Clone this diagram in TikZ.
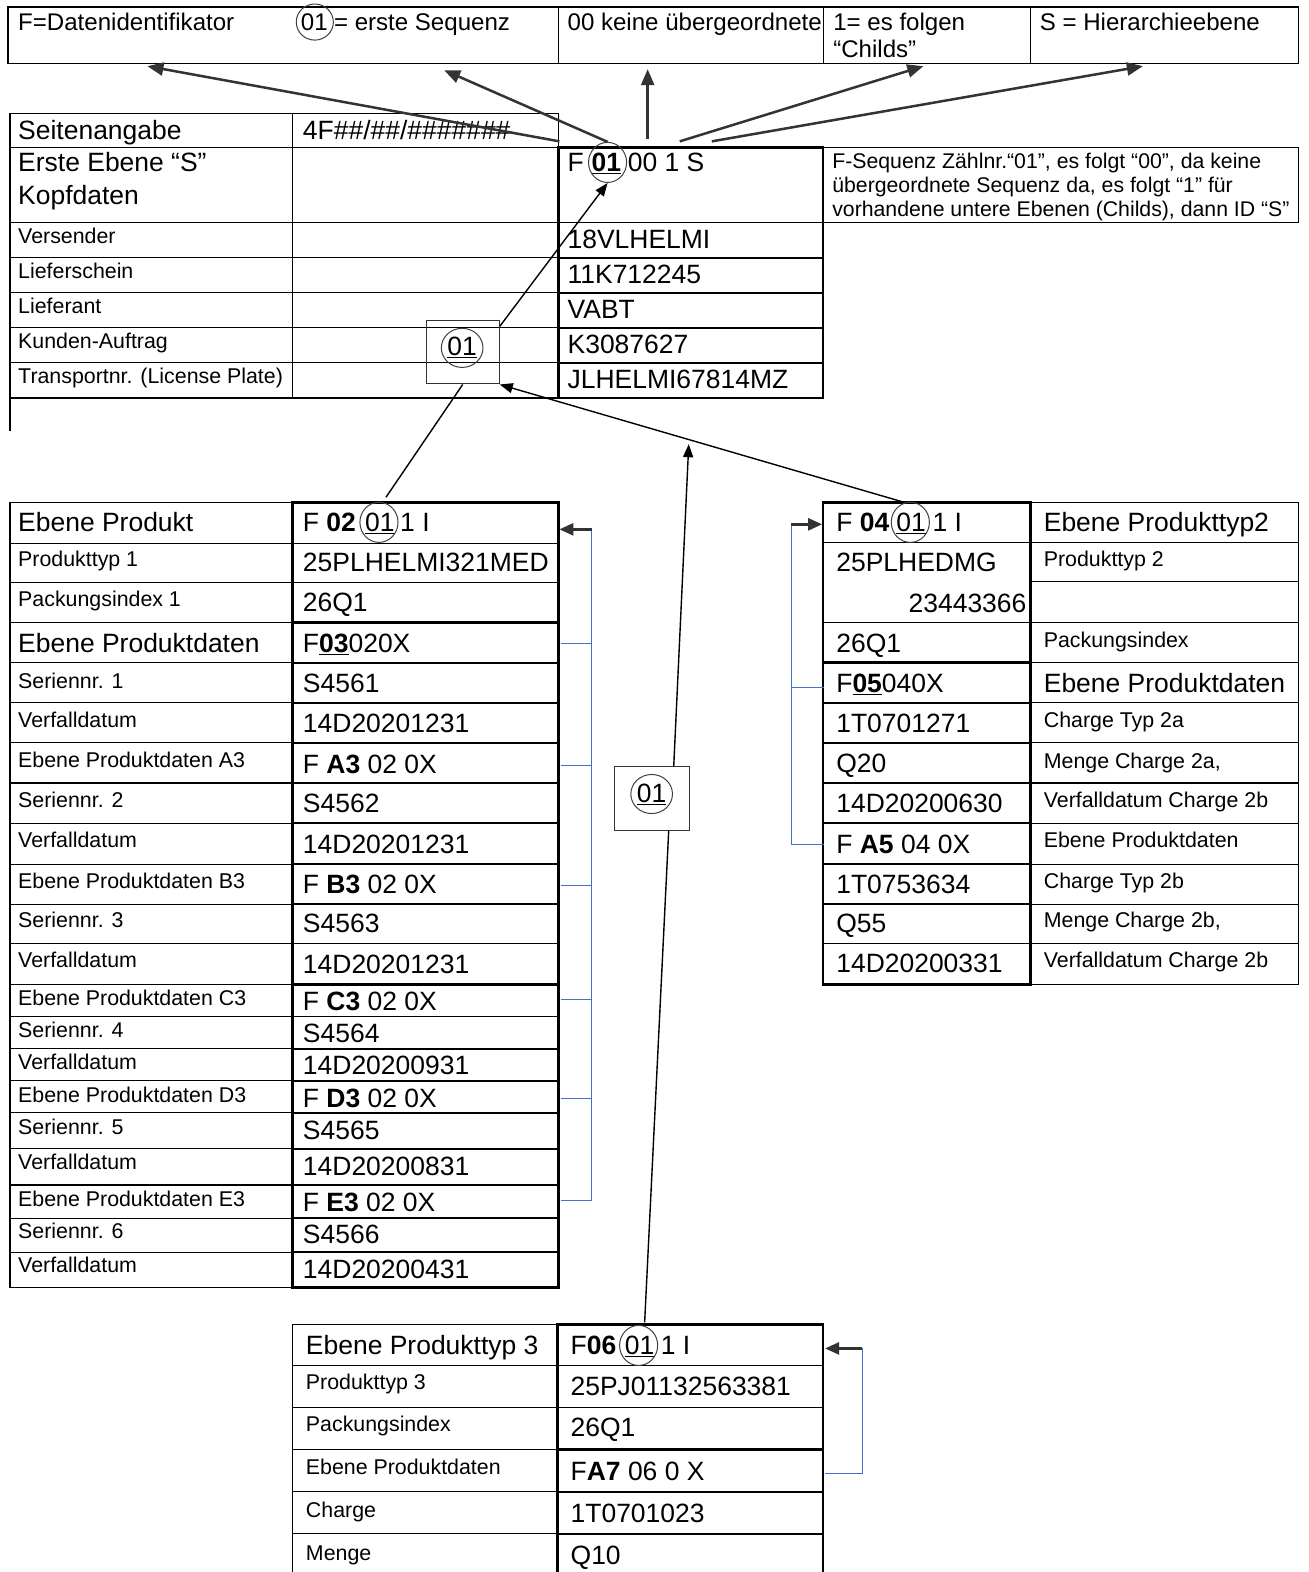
\documentclass[tikz,border=0pt]{standalone}
\usepackage{fontspec}
\setmainfont{Liberation Sans}
\usetikzlibrary{arrows.meta,shapes.geometric}
\definecolor{wblue}{HTML}{4472C4}
\definecolor{agray}{HTML}{333333}
\begin{document}
\begin{tikzpicture}[x=1pt,y=-1pt,
  val/.style={anchor=base west,inner sep=0pt,font=\fontsize{26.4}{30}\selectfont},
  lab/.style={anchor=base west,inner sep=0pt,font=\fontsize{21.3}{25}\selectfont},
  topt/.style={anchor=base west,inner sep=0pt,font=\fontsize{24}{28}\selectfont},
  note/.style={anchor=base west,inner sep=0pt,font=\fontsize{21.2}{25}\selectfont},
  thinl/.style={line width=1.1pt,black},
  midl/.style={line width=1.7pt,black},
  thickl/.style={line width=2.5pt,black},
  ring/.style={draw=black!75,line width=1pt,ellipse,minimum width=38pt,minimum height=40pt,inner sep=0pt,font=\fontsize{26.4}{30}\selectfont},
  garrow/.style={line width=2.5pt,draw=agray,-{Triangle[length=16pt,width=13pt]}},
  sarrow/.style={line width=2.6pt,draw=agray,-{Triangle[length=14pt,width=12pt]}},
  karrow/.style={line width=1.4pt,black,-{Triangle[length=13pt,width=10pt]}},
  kline/.style={line width=1.4pt,black},
  bl/.style={line width=1pt,draw=wblue},
  boxs/.style={draw=black!80,line width=1pt,inner sep=0pt}
]
\useasboundingbox (0,0) rectangle (1305,1568);

% ---------------- top bar ----------------
\draw[thinl] (8,7) rectangle (1295,63);
\foreach \x in {557,821,1028} \draw[thinl] (\x,7) -- (\x,63);
\node[topt] (tb1) at (18,30.5) {F=Datenidentifikator};
\node[topt] (tb2a) at (300,30.5) {01};
\node[ring,minimum width=37pt,minimum height=36pt] (tbc) at (314,22) {};
\node[topt] (tb2b) at (333,30.5) {= erste Sequenz};
\node[topt] (tb3) at (566,30.5) {00 keine übergeordnete};
\node[topt] (tb4a) at (831,30.5) {1= es folgen};
\node[topt] (tb4b) at (831,57) {“Childs”};
\node[topt] (tb5) at (1037,30.5) {S = Hierarchieebene};

% ---------------- header table ----------------
\draw[thinl] (10,430) -- (10,113) -- (557,113) -- (557,147);
\draw[thinl] (292,113) -- (292,397);
\foreach \y in {147,222,257,292,327,362,397} \draw[thinl] (10,\y) -- (557,\y);
\foreach \y in {222,257,292,327,362} \draw[midl] (557,\y) -- (821,\y);
\draw[thickl] (557,147) rectangle (821,397);
\draw[thinl] (821,147) rectangle (1295,222);

\node[val] (hSa) at (18,139.5) {Seitenangabe};
\node[val] (hSb) at (302,139.5) {4F\#\#/\#\#/\#\#\#\#\#\#\#};
\node[val] (hE1) at (18,171.5) {Erste Ebene “S”};
\node[val] (hE2) at (18,203.5) {Kopfdaten};
\node[val] (h1a) at (566,171.5) {F};
\node[val] (h1b) at (590,171.5) {\underline{\textbf{01}}};
\node[val] (h1c) at (626,171.5) {00 1 S};
\node[ring] (c1) at (606,162) {};

\node[lab] (hl1) at (18,242.5) {Versender};
\node[lab] (hl2) at (18,277.5) {Lieferschein};
\node[lab] (hl3) at (18,312.5) {Lieferant};
\node[lab] (hl4) at (18,347.5) {Kunden-Auftrag};
\node[lab] (hl5) at (18,382.5) {Transportnr. (License Plate)};
\node[val] (hv1) at (566,247.5) {18VLHELMI};
\node[val] (hv2) at (566,282.5) {11K712245};
\node[val] (hv3) at (566,317.5) {VABT};
\node[val] (hv4) at (566,352.5) {K3087627};
\node[val] (hv5) at (566,387.5) {JLHELMI67814MZ};

\node[note] (n1) at (830,168) {F-Sequenz Zählnr.“01”, es folgt “00”, da keine};
\node[note] (n2) at (830,192.5) {übergeordnete Sequenz da, es folgt “1” für};
\node[note] (n3) at (830,216) {vorhandene untere Ebenen (Childs), dann ID “S”};

% ---------------- box 1 ----------------
\node[boxs,minimum width=73pt,minimum height=63pt] (b1) at (461.5,351.5) {};
\node[ring,minimum width=41pt,minimum height=39pt] (b1c) at (461,347) {\underline{01}};

% ---------------- left table ----------------
\draw[thinl] (10,501) rectangle (292,1284);
\foreach \y in {542,581,621,661,701,741,781,821,862,902,941,982,1014,1046,1078,1110,1146,1182,1215,1249}
  \draw[thinl] (10,\y) -- (292,\y);
\foreach \y in {542,581,661,701,781,821,902,941,1014,1046,1110,1146,1215,1249}
  \draw[midl] (292,\y) -- (557,\y);
\foreach \y in {621,741,862,982,1078,1182}
  \draw[thickl] (292,\y) -- (557,\y);
\draw[thickl] (292,501) rectangle (557,1284);

\node[val] (L1) at (18,530.5) {Ebene Produkt};
\node[lab] (L2) at (18,565.5) {Produkttyp 1};
\node[lab] (L3) at (18,604.5) {Packungsindex 1};
\node[val] (L4) at (18,650.5) {Ebene Produktdaten};
\node[lab] (L5) at (18,686.5) {Seriennr. 1};
\node[lab] (L6) at (18,725.5) {Verfalldatum};
\node[lab] (L7) at (18,765.5) {Ebene Produktdaten A3};
\node[lab] (L8) at (18,805.5) {Seriennr. 2};
\node[lab] (L9) at (18,845.5) {Verfalldatum};
\node[lab] (L10) at (18,886.5) {Ebene Produktdaten B3};
\node[lab] (L11) at (18,925.5) {Seriennr. 3};
\node[lab] (L12) at (18,965.5) {Verfalldatum};
\node[lab] (L13) at (18,1002.5) {Ebene Produktdaten C3};
\node[lab] (L14) at (18,1034.5) {Seriennr. 4};
\node[lab] (L15) at (18,1066.5) {Verfalldatum};
\node[lab] (L16) at (18,1099.5) {Ebene Produktdaten D3};
\node[lab] (L17) at (18,1131.5) {Seriennr. 5};
\node[lab] (L18) at (18,1166.5) {Verfalldatum};
\node[lab] (L19) at (18,1203.5) {Ebene Produktdaten E3};
\node[lab] (L20) at (18,1235.5) {Seriennr. 6};
\node[lab] (L21) at (18,1269.5) {Verfalldatum};

\node[val] (V1a) at (302,530.5) {F \textbf{02}};
\node[val] (V1b) at (364,530.5) {\underline{01}};
\node[val] (V1c) at (399,530.5) {1 I};
\node[ring] (c2) at (378,521) {};
\node[val] (V2) at (302,570.5) {25PLHELMI321MED};
\node[val] (V3) at (302,609.5) {26Q1};
\node[val] (V4) at (302,650.5) {F\underline{\textbf{03}}020X};
\node[val] (V5) at (302,690.5) {S4561};
\node[val] (V6) at (302,730.5) {14D20201231};
\node[val] (V7) at (302,771.5) {F \textbf{A3} 02 0X};
\node[val] (V8) at (302,810.5) {S4562};
\node[val] (V9) at (302,851.5) {14D20201231};
\node[val] (V10) at (302,891.5) {F \textbf{B3} 02 0X};
\node[val] (V11) at (302,930.5) {S4563};
\node[val] (V12) at (302,971.5) {14D20201231};
\node[val] (V13) at (302,1007.5) {F \textbf{C3} 02 0X};
\node[val] (V14) at (302,1039.5) {S4564};
\node[val] (V15) at (302,1071.5) {14D20200931};
\node[val] (V16) at (302,1104.5) {F \textbf{D3} 02 0X};
\node[val] (V17) at (302,1136.5) {S4565};
\node[val] (V18) at (302,1172.5) {14D20200831};
\node[val] (V19) at (302,1208.5) {F \textbf{E3} 02 0X};
\node[val] (V20) at (302,1240.5) {S4566};
\node[val] (V21) at (302,1275.5) {14D20200431};

% ---------------- right table ----------------
\draw[thinl] (1028,501) rectangle (1295,982);
\foreach \y in {541,580,621,661,701,741,781,821,862,902,941}
  \draw[thinl] (1028,\y) -- (1295,\y);
\foreach \y in {541,621,701,741,781,862,902,941}
  \draw[midl] (821,\y) -- (1028,\y);
\foreach \y in {661,821}
  \draw[thickl] (821,\y) -- (1028,\y);
\draw[thickl] (821,501) rectangle (1028,982);

\node[val] (R1a) at (834,530.5) {F \textbf{04}};
\node[val] (R1b) at (894,530.5) {\underline{01}};
\node[val] (R1c) at (930,530.5) {1 I};
\node[ring] (c4) at (908,521) {};
\node[val] (R2) at (834,570.5) {25PLHEDMG};
\node[val,anchor=base east] (R3) at (1024,610.5) {23443366};
\node[val] (R4) at (834,650.5) {26Q1};
\node[val] (R5) at (834,690.5) {F\underline{\textbf{05}}040X};
\node[val] (R6) at (834,730.5) {1T0701271};
\node[val] (R7) at (834,770.5) {Q20};
\node[val] (R8) at (834,810.5) {14D20200630};
\node[val] (R9) at (834,851.5) {F \textbf{A5} 04 0X};
\node[val] (R10) at (834,891.5) {1T0753634};
\node[val] (R11) at (834,930.5) {Q55};
\node[val] (R12) at (834,970.5) {14D20200331};

\node[val] (Q1) at (1041,530.5) {Ebene Produkttyp2};
\node[lab] (Q2) at (1041,565.5) {Produkttyp 2};
\node[lab] (Q3) at (1041,645.5) {Packungsindex};
\node[val] (Q4) at (1041,690.5) {Ebene Produktdaten};
\node[lab] (Q5) at (1041,725.5) {Charge Typ 2a};
\node[lab] (Q6) at (1041,766.5) {Menge Charge 2a,};
\node[lab] (Q7) at (1041,805.5) {Verfalldatum Charge 2b};
\node[lab] (Q8) at (1041,845.5) {Ebene Produktdaten};
\node[lab] (Q9) at (1041,886.5) {Charge Typ 2b};
\node[lab] (Q10) at (1041,925.5) {Menge Charge 2b,};
\node[lab] (Q11) at (1041,965.5) {Verfalldatum Charge 2b};

% ---------------- bottom table ----------------
\draw[thinl] (292,1568) -- (292,1321) -- (556,1321);
\foreach \y in {1362,1404,1446,1488,1530} \draw[thinl] (292,\y) -- (556,\y);
\foreach \y in {1362,1404,1488,1530} \draw[midl] (556,\y) -- (821,\y);
\draw[thickl] (556,1446) -- (821,1446);
\draw[thickl] (556,1568) -- (556,1321) -- (821,1321) -- (821,1568);

\node[val] (B1) at (305,1351.5) {Ebene Produkttyp 3};
\node[lab] (B2) at (305,1385.5) {Produkttyp 3};
\node[lab] (B3) at (305,1427.5) {Packungsindex};
\node[lab] (B4) at (305,1470.5) {Ebene Produktdaten};
\node[lab] (B5) at (305,1513.5) {Charge};
\node[lab] (B6) at (305,1556.5) {Menge};
\node[val] (W1a) at (569,1351.5) {F\textbf{06}};
\node[val] (W1b) at (623,1351.5) {\underline{01}};
\node[val] (W1c) at (659,1351.5) {1 I};
\node[ring] (c6) at (637,1342) {};
\node[val] (W2) at (569,1391.5) {25PJ01132563381};
\node[val] (W3) at (569,1432.5) {26Q1};
\node[val] (W4) at (569,1476.5) {F\textbf{A7} 06 0 X};
\node[val] (W5) at (569,1518.5) {1T0701023};
\node[val] (W6) at (569,1560.5) {Q10};

% ---------------- box 2 ----------------
\node[boxs,minimum width=75pt,minimum height=63pt] (b2) at (650.5,796.5) {};
\node[ring,minimum width=41pt,minimum height=39pt] (b2c) at (650,792) {\underline{01}};

% ---------------- top arrows ----------------
\coordinate (s1) at (558,141);
\coordinate (s3) at (646,139);
\coordinate (s4) at (678,141);
\coordinate (s5) at (710,141);
\coordinate (t1) at (147,66);
\coordinate (t2) at (443,70);
\coordinate (t3) at (646,69);
\coordinate (t4) at (921,66);
\coordinate (t5) at (1140,66);
\draw[garrow] (s1) -- (t1);
\draw[garrow] (c1.north) -- (t2);
\draw[garrow] (s3) -- (t3);
\draw[garrow] (s4) -- (t4);
\draw[garrow] (s5) -- (t5);

% ---------------- black connectors ----------------
\coordinate (pL) at (385,496);
\coordinate (tm) at (687,443);
\coordinate (pB) at (643,1319);
\draw[karrow] ([yshift=-6pt]b1.north east) -- (c1.south);
\draw[kline] (b1.south) -- (pL);
\draw[karrow] ([xshift=-8pt]c4.north) -- (b1.south east);
\draw[karrow] ([xshift=21.5pt]b2.north) -- (tm);
\draw[kline] ([xshift=16.5pt]b2.south) -- (pB);

% ---------------- blue brackets ----------------
\coordinate (lA) at (590,528);
\coordinate (lT) at (558,528);
\draw[bl] (lA) -- (590,1197) -- (560,1197);
\foreach \y in {642,764,883,997,1096} \draw[bl] (560,\y) -- (590,\y);
\draw[sarrow] (lA) -- (lT);

\coordinate (rA) at (789,523);
\coordinate (rT) at (820,523);
\draw[bl] (rA) -- (789,842) -- (822,842);
\draw[bl] (789,686) -- (822,686);
\draw[sarrow] (rA) -- (rT);

\coordinate (bA) at (860,1345);
\coordinate (bT) at (823,1345);
\draw[bl] (bA) -- (860,1470) -- (823,1470);
\draw[sarrow] (bA) -- (bT);
\end{tikzpicture}
\end{document}
